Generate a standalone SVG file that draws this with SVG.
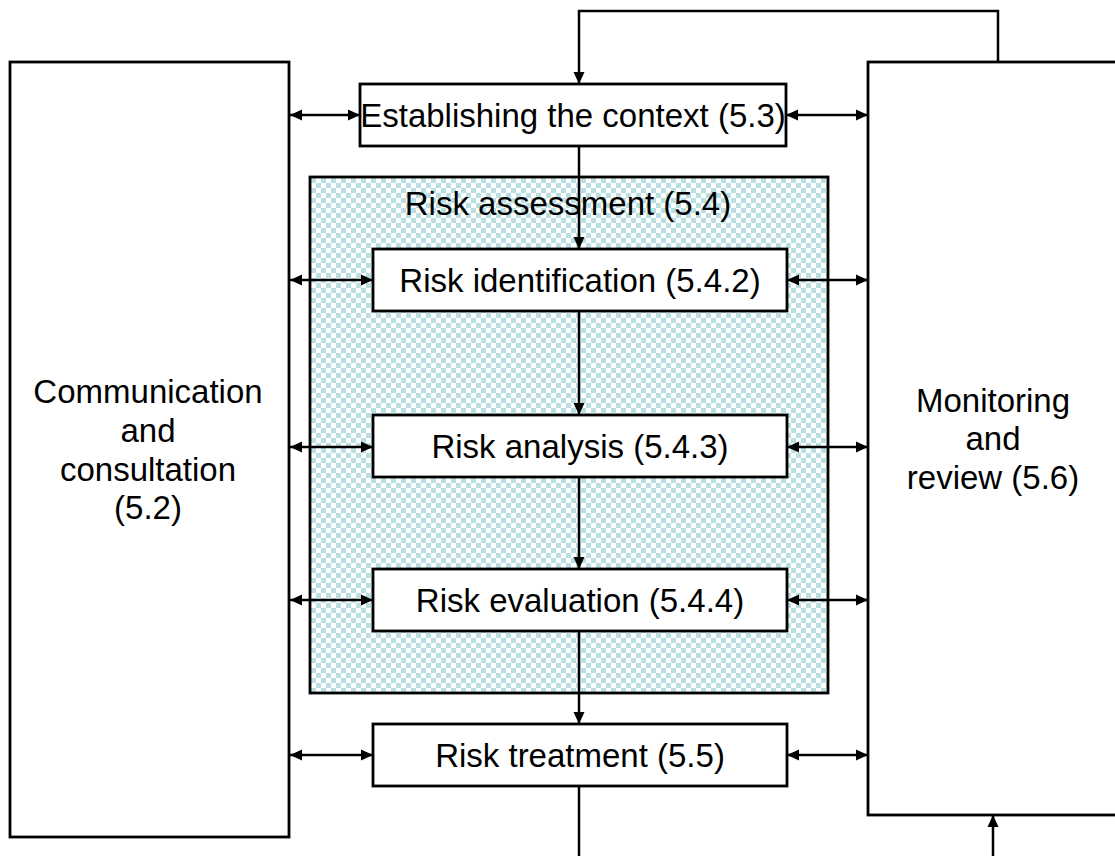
<svg xmlns="http://www.w3.org/2000/svg" width="1115" height="856" viewBox="0 0 1115 856">
<style>
.box{fill:#fff;stroke:#000;stroke-width:2.8}
.t{font-family:"Liberation Sans",Arial,sans-serif;font-size:33px;fill:#000;text-anchor:middle}
.c{fill:none;stroke:#000;stroke-width:2.5}
</style>
<defs>
<pattern id="chk" width="10" height="10" patternUnits="userSpaceOnUse" x="311" y="178">
<rect width="10" height="10" fill="#fff"/>
<rect width="5" height="5" fill="#b9dfe3"/>
<rect x="5" y="5" width="5" height="5" fill="#b9dfe3"/>
</pattern>
<marker id="ah" markerUnits="userSpaceOnUse" markerWidth="12" markerHeight="12" viewBox="0 0 12 12" refX="12" refY="6" orient="auto-start-reverse">
<path d="M0,0.5 L12,6 L0,11.5 z" fill="#000"/>
</marker>
</defs>
<g id="comm">
<rect class="box" x="10" y="62" width="279" height="775"/>
<text class="t" x="148" y="403">Communication</text>
<text class="t" x="148" y="442">and</text>
<text class="t" x="148" y="481">consultation</text>
<text class="t" x="148" y="519">(5.2)</text>
</g>
<g id="monitor">
<rect class="box" x="868" y="62" width="260" height="753"/>
<text class="t" x="993" y="412">Monitoring</text>
<text class="t" x="993" y="450">and</text>
<text class="t" x="993" y="489">review (5.6)</text>
</g>
<g id="assessment">
<rect x="310" y="177" width="518" height="516" fill="url(#chk)" stroke="#000" stroke-width="2.8"/>
<text class="t" x="568" y="215">Risk assessment (5.4)</text>
</g>
<g id="context">
<rect class="box" x="360" y="84" width="426" height="62"/>
<text class="t" x="573" y="127">Establishing the context (5.3)</text>
</g>
<g id="identification">
<rect class="box" x="373" y="249" width="414" height="62"/>
<text class="t" x="580" y="292">Risk identification (5.4.2)</text>
</g>
<g id="analysis">
<rect class="box" x="373" y="415" width="414" height="62"/>
<text class="t" x="580" y="458">Risk analysis (5.4.3)</text>
</g>
<g id="evaluation">
<rect class="box" x="373" y="569" width="414" height="62"/>
<text class="t" x="580" y="612">Risk evaluation (5.4.4)</text>
</g>
<g id="treatment">
<rect class="box" x="373" y="724" width="414" height="62"/>
<text class="t" x="580" y="767">Risk treatment (5.5)</text>
</g>
<g id="connectors">
<path class="c" d="M998,62 V11 H579 V84" marker-end="url(#ah)"/>
<path class="c" d="M579,146 V249" marker-end="url(#ah)"/>
<path class="c" d="M579,311 V415" marker-end="url(#ah)"/>
<path class="c" d="M579,477 V569" marker-end="url(#ah)"/>
<path class="c" d="M579,631 V724" marker-end="url(#ah)"/>
<path class="c" d="M579,786 V856"/>
<path class="c" d="M993,856 V815" marker-end="url(#ah)"/>
<path class="c" d="M290,115 H360" marker-start="url(#ah)" marker-end="url(#ah)"/>
<path class="c" d="M786,115 H868" marker-start="url(#ah)" marker-end="url(#ah)"/>
<path class="c" d="M290,280 H373" marker-start="url(#ah)" marker-end="url(#ah)"/>
<path class="c" d="M787,280 H868" marker-start="url(#ah)" marker-end="url(#ah)"/>
<path class="c" d="M290,447 H373" marker-start="url(#ah)" marker-end="url(#ah)"/>
<path class="c" d="M787,447 H868" marker-start="url(#ah)" marker-end="url(#ah)"/>
<path class="c" d="M290,600 H373" marker-start="url(#ah)" marker-end="url(#ah)"/>
<path class="c" d="M787,600 H868" marker-start="url(#ah)" marker-end="url(#ah)"/>
<path class="c" d="M290,755 H373" marker-start="url(#ah)" marker-end="url(#ah)"/>
<path class="c" d="M787,755 H868" marker-start="url(#ah)" marker-end="url(#ah)"/>
</g>
</svg>
